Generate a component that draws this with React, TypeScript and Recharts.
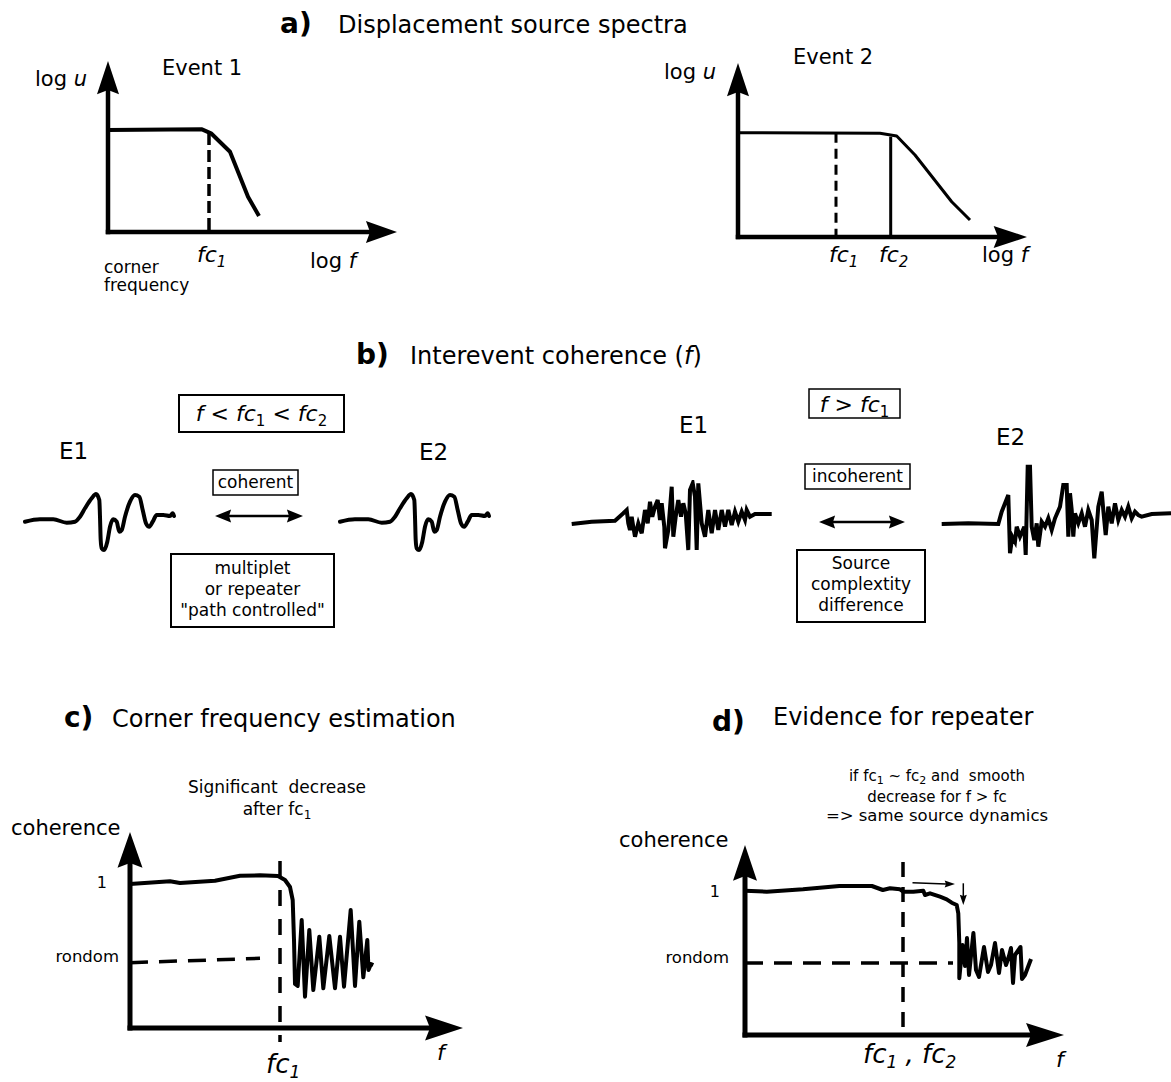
import React from "react";
import { ComposedChart, Line, Scatter, XAxis, YAxis } from "recharts";

const FONT = '"DejaVu Sans", Verdana, sans-serif';
const INK = "#000";
const U = 10; // one data unit = 10 px on the page, in every panel

type P = { x: number; y: number };

// ---- a) displacement source spectra (log f, log u) ----
const spectrum1: P[] = [
  { x: 0, y: 10.2 }, { x: 9.4, y: 10.27 }, { x: 10.3, y: 9.87 },
  { x: 12.2, y: 8.03 }, { x: 14.0, y: 3.53 }, { x: 15.1, y: 1.6 },
];
const spectrum2: P[] = [
  { x: 0, y: 10.43 }, { x: 14.2, y: 10.37 }, { x: 15.87, y: 10.1 },
  { x: 17.7, y: 8.2 }, { x: 21.37, y: 3.53 }, { x: 23.2, y: 1.7 },
];
const fc1Event1: P[] = [{ x: 10.1, y: 9.9 }, { x: 10.1, y: 0 }];
const fc1Event2: P[] = [{ x: 9.8, y: 10.43 }, { x: 9.8, y: 0 }];
const fc2Event2: P[] = [{ x: 15.27, y: 10.03 }, { x: 15.27, y: 0 }];
const axesEvent1 = [26.2, 14.2]; // where the x and y axis lines end
const axesEvent2 = [26.0, 14.5];

// ---- b) waveforms (time, amplitude) ----
const waveCoherent: P[] = [
  { x: 0.5, y: -0.17 }, { x: 2.0, y: 0.07 }, { x: 3.33, y: 0.07 }, { x: 4.67, y: -0.27 },
  { x: 5.5, y: -0.17 }, { x: 6.0, y: 0.33 }, { x: 6.5, y: 1.17 }, { x: 7.17, y: 2.17 },
  { x: 7.6, y: 2.6 }, { x: 7.93, y: 2.0 }, { x: 8.0, y: 0.33 }, { x: 8.07, y: -2.0 },
  { x: 8.17, y: -2.83 }, { x: 8.4, y: -3.0 }, { x: 8.73, y: -2.17 }, { x: 9.0, y: -0.67 },
  { x: 9.33, y: 0.07 }, { x: 9.67, y: -0.17 }, { x: 9.93, y: -1.17 }, { x: 10.17, y: -1.0 },
  { x: 10.5, y: 0.33 }, { x: 11.0, y: 1.83 }, { x: 11.5, y: 2.5 }, { x: 11.93, y: 2.33 },
  { x: 12.27, y: 1.0 }, { x: 12.6, y: -0.33 }, { x: 12.93, y: -0.67 }, { x: 13.27, y: -0.17 },
  { x: 13.67, y: 0.5 }, { x: 14.33, y: 0.5 }, { x: 15.0, y: 0.4 }, { x: 15.27, y: 0.67 },
  { x: 15.4, y: 0.4 },
];
const waveE1Incoherent: P[] = [
  { x: 0.67, y: -0.4 }, { x: 2.67, y: -0.17 }, { x: 5.0, y: -0.07 }, { x: 5.83, y: 0.67 },
  { x: 6.17, y: 1.0 }, { x: 6.33, y: -0.33 }, { x: 6.5, y: -1.0 }, { x: 6.67, y: 0.33 },
  { x: 6.83, y: -0.67 }, { x: 7.0, y: -1.67 }, { x: 7.33, y: -0.33 }, { x: 7.67, y: -1.33 },
  { x: 8.0, y: 1.0 }, { x: 8.27, y: -0.33 }, { x: 8.5, y: 1.83 }, { x: 8.73, y: 0.33 },
  { x: 9.0, y: 1.33 }, { x: 9.27, y: 2.0 }, { x: 9.5, y: 0 }, { x: 9.67, y: 1.67 },
  { x: 9.93, y: -0.67 }, { x: 10.0, y: -2.83 }, { x: 10.33, y: -1.0 }, { x: 10.67, y: 3.33 },
  { x: 10.83, y: -1.67 }, { x: 11.07, y: 0.33 }, { x: 11.33, y: 2.0 }, { x: 11.6, y: 0.33 },
  { x: 11.83, y: 1.67 }, { x: 12.07, y: 0.67 }, { x: 12.33, y: -3.0 }, { x: 12.5, y: 3.0 },
  { x: 12.77, y: 3.67 }, { x: 13.0, y: 2.33 }, { x: 13.17, y: -3.0 }, { x: 13.33, y: 3.67 },
  { x: 13.67, y: -0.33 }, { x: 14.0, y: -1.67 }, { x: 14.33, y: 1.0 }, { x: 14.67, y: -1.33 },
  { x: 15.0, y: 1.0 }, { x: 15.33, y: -1.0 }, { x: 15.67, y: 1.0 }, { x: 16.0, y: -0.67 },
  { x: 16.33, y: 1.0 }, { x: 16.67, y: -0.5 }, { x: 17.0, y: 0.83 }, { x: 17.33, y: -0.17 },
  { x: 17.67, y: 0.83 }, { x: 18.0, y: 0 }, { x: 18.17, y: 1.0 }, { x: 18.5, y: 0.33 },
  { x: 19.0, y: 0.6 }, { x: 20.67, y: 0.6 },
];
const waveE2Incoherent: P[] = [
  { x: 0.67, y: -0.4 }, { x: 3.33, y: -0.33 }, { x: 6.33, y: -0.4 }, { x: 6.67, y: 0.83 },
  { x: 7.33, y: 2.5 }, { x: 7.5, y: -3.33 }, { x: 7.73, y: -1.67 }, { x: 8.0, y: -2.17 },
  { x: 8.17, y: -0.67 }, { x: 8.5, y: -1.67 }, { x: 8.93, y: -0.67 }, { x: 9.07, y: -3.5 },
  { x: 9.27, y: 5.33 }, { x: 9.5, y: 5.33 }, { x: 9.67, y: -0.67 }, { x: 9.93, y: -2.0 },
  { x: 10.17, y: -0.33 }, { x: 10.33, y: -2.67 }, { x: 10.67, y: -0.17 }, { x: 11.0, y: -0.67 },
  { x: 11.33, y: 0.17 }, { x: 11.67, y: -1.0 }, { x: 12.0, y: 0.17 }, { x: 12.5, y: 1.33 },
  { x: 12.83, y: 3.5 }, { x: 13.17, y: 3.5 }, { x: 13.33, y: -1.67 }, { x: 13.5, y: 2.67 },
  { x: 13.67, y: 1.0 }, { x: 13.83, y: -1.67 }, { x: 14.0, y: 0.67 }, { x: 14.33, y: -0.33 },
  { x: 14.67, y: 0.67 }, { x: 15.0, y: -0.67 }, { x: 15.33, y: 1.0 }, { x: 15.67, y: 0 },
  { x: 15.93, y: -3.83 }, { x: 16.33, y: 1.33 }, { x: 16.67, y: 2.83 }, { x: 16.83, y: 1.0 },
  { x: 17.07, y: -1.5 }, { x: 17.33, y: 1.33 }, { x: 17.67, y: -0.33 }, { x: 18.0, y: 1.67 },
  { x: 18.33, y: 0 }, { x: 18.67, y: 1.0 }, { x: 19.0, y: 0.33 }, { x: 19.33, y: 1.33 },
  { x: 19.67, y: 0.17 }, { x: 20.0, y: 0.83 }, { x: 20.33, y: 0.5 }, { x: 20.67, y: 0.33 },
  { x: 21.67, y: 0.6 }, { x: 23.6, y: 0.67 },
];
const pairArrowLeft = [1.4, 7.4];
const pairArrowRight = [1.4, 7.2];

// ---- c) corner frequency estimation (f, coherence) ----
const coherenceC: P[] = [
  { x: 0, y: 14.4 }, { x: 4, y: 14.67 }, { x: 5, y: 14.5 }, { x: 8.5, y: 14.73 },
  { x: 11, y: 15.23 }, { x: 13, y: 15.27 }, { x: 14.8, y: 15.2 }, { x: 15.5, y: 14.8 },
  { x: 16, y: 14.1 }, { x: 16.27, y: 12.8 }, { x: 16.4, y: 8.8 }, { x: 16.5, y: 4.4 },
  { x: 16.77, y: 4.2 }, { x: 17.17, y: 10.8 }, { x: 17.5, y: 3.13 }, { x: 17.93, y: 9.8 },
  { x: 18.33, y: 3.8 }, { x: 18.93, y: 9.13 }, { x: 19.33, y: 3.97 }, { x: 19.93, y: 9.2 },
  { x: 20.5, y: 3.97 }, { x: 21.0, y: 9.13 }, { x: 21.4, y: 4.13 }, { x: 22.07, y: 11.8 },
  { x: 22.5, y: 4.2 }, { x: 22.93, y: 10.63 }, { x: 23.33, y: 5.07 }, { x: 23.73, y: 8.8 },
  { x: 23.85, y: 5.8 }, { x: 24.1, y: 6.4 }, { x: 24.33, y: 6.3 },
];
const randomC: P[] = [{ x: 0, y: 6.53 }, { x: 13, y: 6.97 }];
const fc1C: P[] = [{ x: 15, y: 16.7 }, { x: 15, y: -1.4 }];
const axesC = [30.0, 16.5];

// ---- d) evidence for repeater ----
const coherenceD: P[] = [
  { x: 0, y: 14.43 }, { x: 2.18, y: 14.33 }, { x: 5.8, y: 14.57 }, { x: 9.43, y: 14.9 },
  { x: 12.69, y: 14.9 }, { x: 13.78, y: 14.5 }, { x: 14.5, y: 14.67 }, { x: 15.5, y: 14.57 },
  { x: 15.83, y: 14.33 }, { x: 16.83, y: 14.33 }, { x: 17.83, y: 14.43 }, { x: 18, y: 14.0 },
  { x: 18.5, y: 14.17 }, { x: 19.5, y: 13.83 }, { x: 20.17, y: 13.57 }, { x: 20.67, y: 13.23 },
  { x: 21.17, y: 13.0 }, { x: 21.33, y: 12.17 }, { x: 21.43, y: 9.17 }, { x: 21.43, y: 5.67 },
  { x: 21.75, y: 9.0 }, { x: 22.0, y: 6.9 }, { x: 22.2, y: 9.7 }, { x: 22.4, y: 6.0 },
  { x: 22.84, y: 10.2 }, { x: 23.1, y: 6.5 }, { x: 23.4, y: 5.8 }, { x: 23.9, y: 8.8 },
  { x: 24.3, y: 6.3 }, { x: 24.6, y: 7.0 }, { x: 25.0, y: 9.2 }, { x: 25.4, y: 6.2 },
  { x: 25.7, y: 8.5 }, { x: 26.1, y: 7.0 }, { x: 26.4, y: 7.9 }, { x: 26.6, y: 8.7 },
  { x: 26.8, y: 5.2 }, { x: 27.0, y: 8.0 }, { x: 27.55, y: 8.8 }, { x: 27.7, y: 5.6 },
  { x: 28.0, y: 6.0 }, { x: 28.6, y: 7.6 },
];
const randomD: P[] = [{ x: 0, y: 7.2 }, { x: 20.8, y: 7.2 }];
const fcD: P[] = [{ x: 15.8, y: 17.3 }, { x: 15.8, y: 0 }];
const axesD = [28.6, 15.9];
const hintRight: P[] = [{ x: 16.75, y: 15.23 }, { x: 20.1, y: 15.1 }];
const hintDown: P[] = [{ x: 21.83, y: 15.17 }, { x: 21.83, y: 13.9 }];

type Dir = "up" | "down" | "left" | "right";
const DIRS: Record<Dir, number[]> = { up: [0, -1], down: [0, 1], left: [-1, 0], right: [1, 0] };

// arrow head drawn from the scatter point (base centre) towards dir
function headShape(dir: Dir, len: number, half: number) {
  const [dx, dy] = DIRS[dir];
  return (p: any) => {
    const { cx, cy } = p;
    if (cx == null || cy == null) return <g />;
    const nx = -dy, ny = dx, back = len * 0.15;
    const d =
      `M${cx + dx * len},${cy + dy * len}` +
      `L${cx - dx * back + nx * half},${cy - dy * back + ny * half}` +
      `L${cx},${cy}` +
      `L${cx - dx * back - nx * half},${cy - dy * back - ny * half}Z`;
    return <path d={d} fill={INK} />;
  };
}

function path(key: string, data: P[], w: number, opts: { dash?: string; curve?: any; join?: string; cap?: string } = {}) {
  return (
    <Line
      key={key}
      data={data}
      dataKey="y"
      type={opts.curve ?? "linear"}
      stroke={INK}
      strokeWidth={w}
      strokeDasharray={opts.dash}
      strokeLinejoin={opts.join ?? "round"}
      strokeLinecap={opts.cap ?? "butt"}
      dot={false}
      activeDot={false}
      isAnimationActive={false}
    />
  );
}

function head(key: string, pt: P, dir: Dir, len: number, half: number) {
  return <Scatter key={key} data={[pt]} shape={headShape(dir, len, half)} isAnimationActive={false} />;
}

function axes(ends: number[], w: number, yLen: number, xLen: number, half: number) {
  return [
    path("ay", [{ x: 0, y: 0 }, { x: 0, y: ends[1] }], w, { cap: "square" }),
    path("ax", [{ x: 0, y: 0 }, { x: ends[0], y: 0 }], w, { cap: "square" }),
    head("hy", { x: 0, y: ends[1] }, "up", yLen, half),
    head("hx", { x: ends[0], y: 0 }, "right", xLen, half),
  ];
}

function Frame({ x0, y0, xd, yd, children }: { x0: number; y0: number; xd: number[]; yd: number[]; children: any }) {
  const pad = 24;
  const w = (xd[1] - xd[0]) * U;
  const h = (yd[1] - yd[0]) * U;
  return (
    <div style={{ position: "absolute", left: x0 + xd[0] * U - pad, top: y0 - yd[1] * U - pad }}>
      <ComposedChart width={w + 2 * pad} height={h + 2 * pad} margin={{ top: pad, right: pad, bottom: pad, left: pad }}>
        <XAxis type="number" dataKey="x" domain={xd} hide allowDataOverflow />
        <YAxis type="number" dataKey="y" domain={yd} hide allowDataOverflow />
        {children}
      </ComposedChart>
    </div>
  );
}

function Labels() {
  const pre = { whiteSpace: "pre" as const };
  return (
    <svg width={1171} height={1082} style={{ position: "absolute", left: 0, top: 0, pointerEvents: "none" }} fontFamily={FONT} fill={INK}>
      {/* a) */}
      <text x={280} y={33} fontSize={28} fontWeight="bold">a)</text>
      <text x={338} y={33} fontSize={24}>Displacement source spectra</text>
      <text x={35} y={86} fontSize={21}>log <tspan fontStyle="italic">u</tspan></text>
      <text x={162} y={75} fontSize={21}>Event 1</text>
      <text x={197} y={262} fontSize={22} fontStyle="italic">fc<tspan fontSize={15} dy={5}>1</tspan></text>
      <text x={310} y={268} fontSize={21}>log <tspan fontStyle="italic">f</tspan></text>
      <text x={104} y={273} fontSize={17}>corner</text>
      <text x={104} y={291} fontSize={17}>frequency</text>
      <text x={664} y={79} fontSize={21}>log <tspan fontStyle="italic">u</tspan></text>
      <text x={793} y={64} fontSize={21}>Event 2</text>
      <text x={829} y={262} fontSize={22} fontStyle="italic">fc<tspan fontSize={15} dy={5}>1</tspan></text>
      <text x={879} y={262} fontSize={22} fontStyle="italic">fc<tspan fontSize={15} dy={5}>2</tspan></text>
      <text x={982} y={262} fontSize={21}>log <tspan fontStyle="italic">f</tspan></text>

      {/* b) */}
      <text x={356} y={364} fontSize={28} fontWeight="bold">b)</text>
      <text x={410} y={364} fontSize={24}>Interevent coherence (<tspan fontStyle="italic">f</tspan>)</text>
      <rect x={179} y={395} width={165} height={37} fill="none" stroke={INK} strokeWidth={2} />
      <text x={261.5} y={421} fontSize={22} fontStyle="italic" textAnchor="middle">
        f {"<"} fc<tspan fontSize={15} dy={5} fontStyle="normal">1</tspan><tspan dy={-5}> {"<"} fc</tspan><tspan fontSize={15} dy={5} fontStyle="normal">2</tspan>
      </text>
      <text x={59} y={459} fontSize={23}>E1</text>
      <text x={419} y={460} fontSize={23}>E2</text>
      <rect x={213} y={470} width={85} height={25} fill="none" stroke={INK} strokeWidth={1.5} />
      <text x={255.5} y={488} fontSize={17} textAnchor="middle">coherent</text>
      <rect x={171} y={554} width={163} height={73} fill="none" stroke={INK} strokeWidth={2} />
      <text x={252.5} y={574} fontSize={17} textAnchor="middle">multiplet</text>
      <text x={252.5} y={595} fontSize={17} textAnchor="middle">or repeater</text>
      <text x={252.5} y={616} fontSize={17} textAnchor="middle">"path controlled"</text>

      <rect x={809} y={389} width={91} height={29} fill="none" stroke={INK} strokeWidth={1.5} />
      <text x={854.5} y={412} fontSize={22} fontStyle="italic" textAnchor="middle">
        f {">"} fc<tspan fontSize={15} dy={5} fontStyle="normal">1</tspan>
      </text>
      <text x={679} y={433} fontSize={23}>E1</text>
      <text x={996} y={445} fontSize={23}>E2</text>
      <rect x={805} y={464} width={105} height={25} fill="none" stroke={INK} strokeWidth={1.5} />
      <text x={857.5} y={482} fontSize={17} textAnchor="middle">incoherent</text>
      <rect x={797} y={550} width={128} height={72} fill="none" stroke={INK} strokeWidth={2} />
      <text x={861} y={569} fontSize={17} textAnchor="middle">Source</text>
      <text x={861} y={590} fontSize={17} textAnchor="middle">complextity</text>
      <text x={861} y={611} fontSize={17} textAnchor="middle">difference</text>

      {/* c) */}
      <text x={64} y={727} fontSize={28} fontWeight="bold">c)</text>
      <text x={112} y={727} fontSize={24}>Corner frequency estimation</text>
      <text x={277} y={793} fontSize={17} textAnchor="middle" style={pre}>Significant  decrease</text>
      <text x={277} y={815} fontSize={17} textAnchor="middle">after fc<tspan fontSize={12} dy={4}>1</tspan></text>
      <text x={11} y={835} fontSize={21}>coherence</text>
      <text x={107} y={888} fontSize={16} textAnchor="end">1</text>
      <text x={119} y={962} fontSize={16.5} textAnchor="end">rondom</text>
      <text x={266} y={1073} fontSize={26} fontStyle="italic">fc<tspan fontSize={17} dy={5}>1</tspan></text>
      <text x={437} y={1060} fontSize={22} fontStyle="italic">f</text>

      {/* d) */}
      <text x={712} y={731} fontSize={28} fontWeight="bold">d)</text>
      <text x={773} y={725} fontSize={24}>Evidence for repeater</text>
      <text x={937} y={781} fontSize={15} textAnchor="middle" style={pre}>
        if fc<tspan fontSize={11} dy={3}>1</tspan><tspan dy={-3}> ~ fc</tspan><tspan fontSize={11} dy={3}>2</tspan><tspan dy={-3}> and  smooth</tspan>
      </text>
      <text x={937} y={802} fontSize={15} textAnchor="middle">decrease for f {">"} fc</text>
      <text x={937} y={821} fontSize={16.5} textAnchor="middle">{"=> same source dynamics"}</text>
      <text x={619} y={847} fontSize={21}>coherence</text>
      <text x={720} y={897} fontSize={16} textAnchor="end">1</text>
      <text x={729} y={963} fontSize={16.5} textAnchor="end">rondom</text>
      <text x={863} y={1063} fontSize={26} fontStyle="italic">
        fc<tspan fontSize={17} dy={5}>1</tspan><tspan dy={-5}> , fc</tspan><tspan fontSize={17} dy={5}>2</tspan>
      </text>
      <text x={1056} y={1067} fontSize={22} fontStyle="italic">f</text>
    </svg>
  );
}

export default function App() {
  return (
    <div style={{ position: "absolute", left: 0, top: 0, width: 1171, height: 1082, background: "#fff", overflow: "hidden", fontFamily: FONT }}>
      {/* a) event 1 */}
      <Frame x0={108} y0={232} xd={[-2, 32]} yd={[-2, 19]}>
        {axes(axesEvent1, 4.5, 29, 27, 11)}
        {path("s1", spectrum1, 4)}
        {path("fc1", fc1Event1, 3.5, { dash: "12 5" })}
      </Frame>
      {/* a) event 2 */}
      <Frame x0={738} y0={237} xd={[-2, 32]} yd={[-2, 19]}>
        {axes(axesEvent2, 4.5, 29, 29, 11)}
        {path("s2", spectrum2, 3)}
        {path("fc1", fc1Event2, 3, { dash: "10 6" })}
        {path("fc2", fc2Event2, 3)}
      </Frame>

      {/* b) coherent pair */}
      <Frame x0={20} y0={520} xd={[-1, 17]} yd={[-4, 4]}>
        {path("w", waveCoherent, 4, { curve: "monotone", cap: "round" })}
      </Frame>
      <Frame x0={335} y0={520} xd={[-1, 17]} yd={[-4, 4]}>
        {path("w", waveCoherent, 4, { curve: "monotone", cap: "round" })}
      </Frame>
      <Frame x0={215} y0={516} xd={[-1, 10]} yd={[-1, 1]}>
        {path("l", [{ x: pairArrowLeft[0], y: 0 }, { x: pairArrowLeft[1], y: 0 }], 2.5)}
        {head("h1", { x: pairArrowLeft[0], y: 0 }, "left", 14, 6.5)}
        {head("h2", { x: pairArrowLeft[1], y: 0 }, "right", 14, 6.5)}
      </Frame>

      {/* b) incoherent pair */}
      <Frame x0={565} y0={520} xd={[-1, 22]} yd={[-4, 4]}>
        {path("w", waveE1Incoherent, 4, { join: "miter" })}
      </Frame>
      <Frame x0={935} y0={520} xd={[-1, 25]} yd={[-5, 6]}>
        {path("w", waveE2Incoherent, 4, { join: "miter" })}
      </Frame>
      <Frame x0={819} y0={522} xd={[-1, 10]} yd={[-1, 1]}>
        {path("l", [{ x: pairArrowRight[0], y: 0 }, { x: pairArrowRight[1], y: 0 }], 2.5)}
        {head("h1", { x: pairArrowRight[0], y: 0 }, "left", 14, 6.5)}
        {head("h2", { x: pairArrowRight[1], y: 0 }, "right", 14, 6.5)}
      </Frame>

      {/* c) */}
      <Frame x0={130} y0={1028} xd={[-2, 36]} yd={[-3, 22]}>
        {axes(axesC, 5, 31, 33, 12.5)}
        {path("rnd", randomC, 3.5, { dash: "18 11" })}
        {path("fc", fc1C, 3.5, { dash: "16 13" })}
        {path("coh", coherenceC, 4)}
      </Frame>

      {/* d) */}
      <Frame x0={745} y0={1035} xd={[-2, 34]} yd={[-3, 22]}>
        {axes(axesD, 5, 31, 33, 12)}
        {path("rnd", randomD, 3.5, { dash: "18 11" })}
        {path("fc", fcD, 3.5, { dash: "15 10" })}
        {path("coh", coherenceD, 4)}
        {path("hr", hintRight, 1.5)}
        {head("hrh", hintRight[1], "right", 9, 3.5)}
        {path("hd", hintDown, 1.5)}
        {head("hdh", hintDown[1], "down", 9, 3.5)}
      </Frame>

      <Labels />
    </div>
  );
}
